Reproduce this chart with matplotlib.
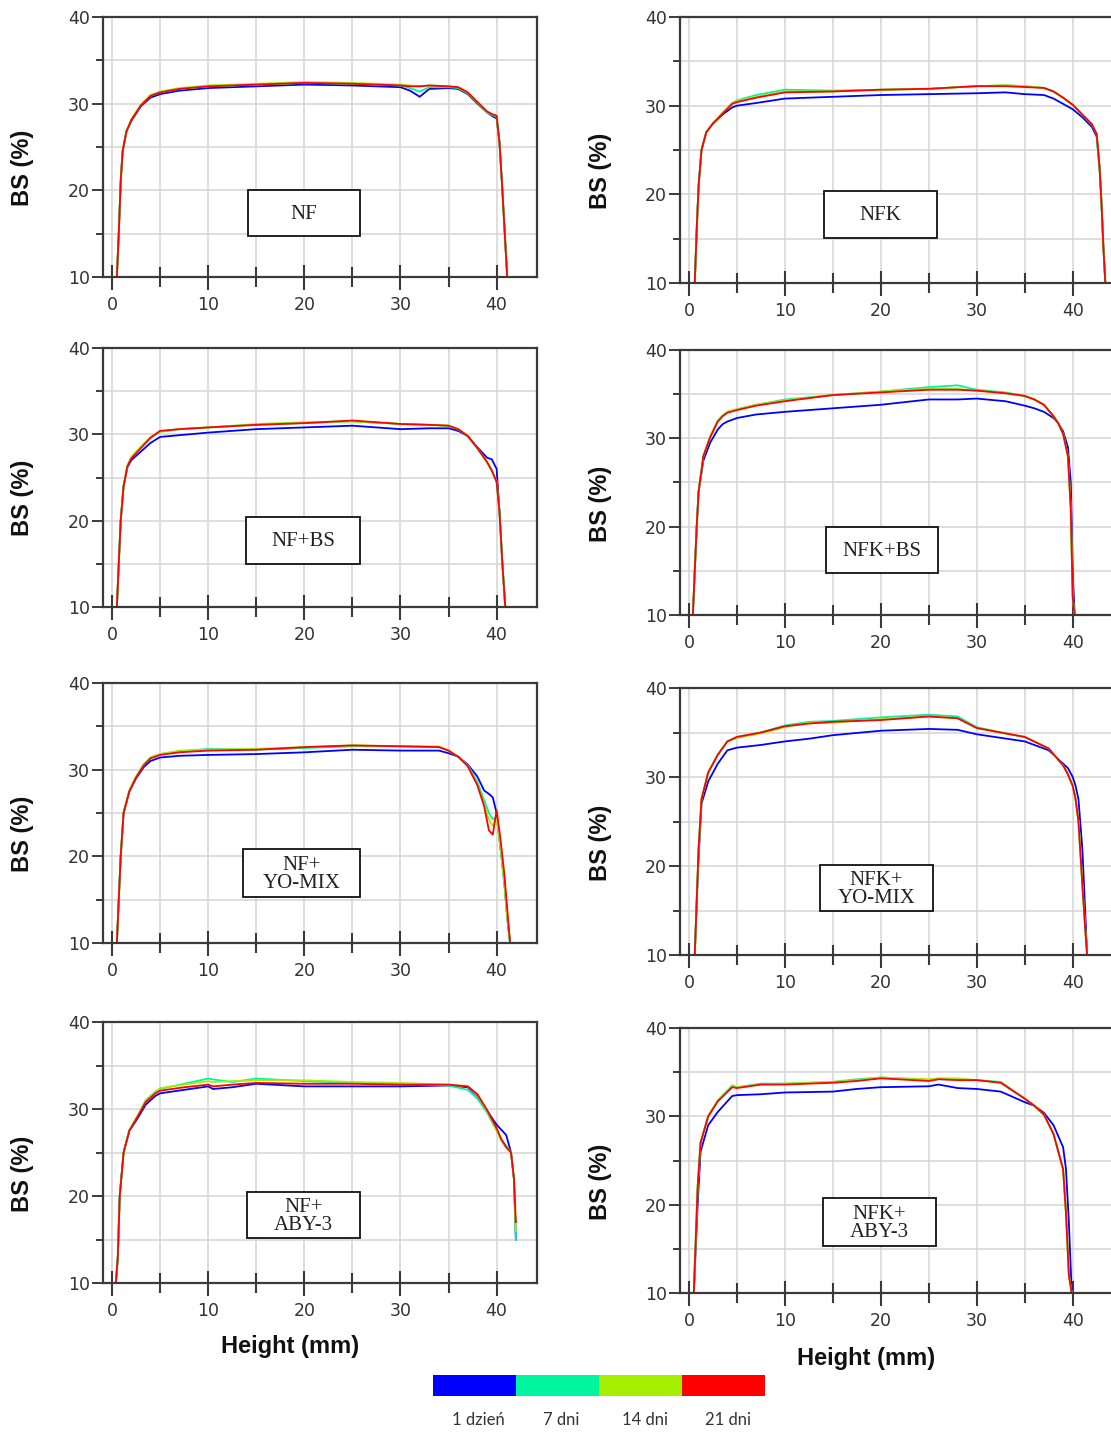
import numpy as np
import matplotlib
matplotlib.use('Agg')
import matplotlib.pyplot as plt
from matplotlib.patches import Rectangle

# backscattering profiles (BS, %) vs sample height (mm), four storage times per sample
day_labels = ['1 dzień', '7 dni', '14 dni', '21 dni']
day_colors = ['#0000ff', '#00f5a0', '#a6ee00', '#ff0000']

# NF
x_nf = [0.5, 0.7, 0.9, 1.1, 1.5, 2, 3, 4, 5, 7, 10, 15, 20, 25, 30, 31, 32, 33, 35, 36, 37, 38, 39, 39.5, 40, 40.3, 40.6, 40.9, 41.1]
nf_1 = [10, 15, 21, 24.5, 26.8, 28.0, 29.7, 30.7, 31.1, 31.5, 31.8, 32.0, 32.2, 32.1, 31.9, 31.5, 30.8, 31.7, 31.8, 31.7, 31.1, 30.0, 29.0, 28.6, 28.3, 25.5, 20, 14, 10]
nf_7 = [10, 15, 21, 24.5, 26.8, 28.1, 29.8, 30.9, 31.3, 31.7, 32.0, 32.2, 32.4, 32.3, 32.1, 31.8, 31.4, 31.9, 31.9, 31.8, 31.2, 30.1, 29.0, 28.7, 28.5, 25.5, 20, 14, 10]
nf_14 = [10, 15, 21, 24.5, 26.8, 28.2, 29.9, 31.0, 31.4, 31.8, 32.1, 32.3, 32.5, 32.4, 32.2, 32.1, 32.0, 32.1, 32.0, 31.9, 31.3, 30.2, 29.1, 28.8, 28.6, 25.5, 20, 14, 10]
nf_21 = [10, 15, 21, 24.5, 26.8, 28.1, 29.8, 30.9, 31.3, 31.7, 32.0, 32.2, 32.4, 32.3, 32.1, 32.0, 32.0, 32.1, 32.0, 31.9, 31.3, 30.2, 29.1, 28.8, 28.6, 25.5, 20, 14, 10]

# NFK
x_nfk = [0.6, 0.8, 1.0, 1.3, 1.8, 2.5, 3.5, 4.5, 5, 7, 10, 15, 20, 25, 30, 33, 35, 37, 38, 39, 40, 41, 42, 42.5, 42.8, 43.0, 43.2, 43.4]
nfk_1 = [10, 16, 21, 25, 27.0, 28.0, 29.0, 29.8, 30.0, 30.3, 30.8, 31.0, 31.2, 31.3, 31.4, 31.5, 31.3, 31.2, 30.8, 30.2, 29.6, 28.7, 27.6, 26.5, 23, 19, 14, 10]
nfk_7 = [10, 16, 21, 25, 27.0, 28.0, 29.2, 30.3, 30.6, 31.2, 31.8, 31.7, 31.8, 31.9, 32.2, 32.3, 32.2, 32.0, 31.6, 30.9, 30.1, 29.0, 27.9, 26.8, 23, 19, 14, 10]
nfk_14 = [10, 16, 21, 25, 27.0, 28.0, 29.2, 30.3, 30.5, 31.0, 31.6, 31.6, 31.8, 31.9, 32.2, 32.3, 32.2, 32.0, 31.6, 30.9, 30.1, 29.0, 27.9, 26.8, 23, 19, 14, 10]
nfk_21 = [10, 16, 21, 25, 27.0, 28.0, 29.1, 30.2, 30.4, 30.9, 31.5, 31.6, 31.8, 31.9, 32.2, 32.2, 32.1, 32.0, 31.6, 30.9, 30.1, 29.0, 27.9, 26.8, 23, 19, 14, 10]

# NF+BS
x_nfbs = [0.5, 0.7, 0.9, 1.2, 1.6, 2, 3, 4, 5, 7, 10, 15, 20, 25, 30, 33, 35, 36, 37, 38, 39, 39.5, 40, 40.3, 40.6, 40.9]
nfbs_1 = [10, 15, 20, 24, 26.2, 27.0, 28.0, 29.0, 29.7, 29.9, 30.2, 30.6, 30.8, 31.0, 30.6, 30.7, 30.7, 30.4, 29.8, 28.5, 27.3, 27.1, 26.0, 21, 15, 10]
nfbs_7 = [10, 15, 20, 24, 26.3, 27.3, 28.5, 29.6, 30.3, 30.6, 30.8, 31.1, 31.3, 31.5, 31.2, 31.1, 31.0, 30.6, 29.8, 28.4, 26.8, 25.8, 24.5, 21, 15, 10]
nfbs_14 = [10, 15, 20, 24, 26.4, 27.4, 28.6, 29.7, 30.3, 30.6, 30.8, 31.2, 31.4, 31.5, 31.2, 31.1, 31.0, 30.6, 29.8, 28.4, 26.8, 25.8, 24.5, 21, 15, 10]
nfbs_21 = [10, 15, 20, 24, 26.3, 27.2, 28.4, 29.6, 30.4, 30.6, 30.8, 31.1, 31.3, 31.6, 31.2, 31.1, 31.0, 30.6, 29.8, 28.4, 26.8, 25.8, 24.5, 21, 15, 10]

# NFK+BS
x_nfkbs = [0.4, 0.6, 0.8, 1.0, 1.5, 2.2, 3, 3.5, 4, 5, 7, 10, 15, 20, 25, 28, 30, 33, 35, 36, 37, 38, 38.5, 39, 39.5, 39.8, 40.0, 40.2]
nfkbs_1 = [10, 15, 20, 24, 27.5, 29.5, 31.0, 31.6, 31.9, 32.3, 32.7, 33.0, 33.4, 33.8, 34.4, 34.4, 34.5, 34.2, 33.7, 33.4, 33.0, 32.3, 31.7, 30.8, 29.0, 25, 15, 10]
nfkbs_7 = [10, 15, 20, 24, 28.0, 30.2, 32.0, 32.6, 33.0, 33.3, 33.8, 34.4, 34.9, 35.3, 35.8, 36.0, 35.5, 35.2, 34.8, 34.4, 33.8, 32.5, 31.7, 30.5, 28, 22, 12, 10]
nfkbs_14 = [10, 15, 20, 24, 28.0, 30.2, 32.0, 32.6, 33.0, 33.3, 33.8, 34.3, 34.9, 35.3, 35.6, 35.6, 35.4, 35.1, 34.8, 34.4, 33.8, 32.5, 31.7, 30.5, 28, 22, 12, 10]
nfkbs_21 = [10, 15, 20, 24, 28.0, 30.1, 31.9, 32.5, 32.9, 33.2, 33.7, 34.2, 34.9, 35.2, 35.5, 35.5, 35.4, 35.1, 34.8, 34.4, 33.8, 32.5, 31.7, 30.5, 28, 22, 12, 10]

# NF+YO-MIX
x_nfyo = [0.5, 0.7, 0.9, 1.2, 1.8, 2.5, 3.3, 4, 5, 7, 10, 15, 20, 25, 30, 34, 35, 36, 37, 38, 38.7, 39.2, 39.6, 40.0, 40.4, 40.8, 41.1, 41.4]
nfyo_1 = [10, 15, 20, 25, 27.5, 29.0, 30.3, 31.0, 31.4, 31.6, 31.7, 31.8, 32.0, 32.3, 32.2, 32.2, 31.9, 31.5, 30.6, 29.2, 27.6, 27.2, 26.8, 25.0, 21, 17, 13, 10]
nfyo_7 = [10, 15, 20, 25, 27.6, 29.2, 30.6, 31.4, 31.8, 32.1, 32.4, 32.3, 32.5, 32.7, 32.7, 32.6, 32.2, 31.5, 30.5, 28.6, 26.5, 25.0, 24.3, 24.5, 21, 17, 13, 10]
nfyo_14 = [10, 15, 20, 25, 27.6, 29.2, 30.6, 31.4, 31.8, 32.2, 32.3, 32.4, 32.6, 32.8, 32.7, 32.7, 32.2, 31.5, 30.4, 28.3, 26.0, 24.2, 23.5, 24.5, 21, 17, 13, 10]
nfyo_21 = [10, 15, 20, 25, 27.5, 29.1, 30.5, 31.3, 31.7, 32.0, 32.2, 32.3, 32.6, 32.8, 32.7, 32.6, 32.2, 31.5, 30.4, 28.2, 25.8, 23.0, 22.5, 25.3, 22, 18, 14, 10]

# NFK+YO-MIX
x_nfkyo = [0.6, 0.8, 1.0, 1.3, 2, 3, 4, 5, 7.5, 10, 12.5, 15, 20, 25, 28, 30, 32.5, 35, 37.5, 39, 39.5, 40, 40.3, 40.6, 41.0, 41.3, 41.5]
nfkyo_1 = [10, 16, 21, 27, 29.5, 31.5, 33.0, 33.3, 33.6, 34.0, 34.3, 34.7, 35.2, 35.4, 35.3, 34.8, 34.4, 34.0, 33.0, 31.5, 31.0, 30.0, 29.0, 27.5, 22, 15, 10]
nfkyo_7 = [10, 16, 22, 27.5, 30.5, 32.5, 34.0, 34.5, 35.0, 35.8, 36.2, 36.3, 36.7, 37.0, 36.8, 35.6, 35.0, 34.5, 33.2, 31.3, 30.3, 29.0, 27.5, 25, 18, 13, 10]
nfkyo_14 = [10, 16, 22, 27.5, 30.5, 32.5, 34.0, 34.4, 34.9, 35.6, 36.1, 36.1, 36.5, 36.8, 36.6, 35.5, 35.0, 34.5, 33.2, 31.3, 30.3, 29.0, 27.5, 25, 18, 13, 10]
nfkyo_21 = [10, 16, 22, 27.5, 30.5, 32.5, 34.0, 34.5, 35.0, 35.7, 36.0, 36.2, 36.4, 36.8, 36.6, 35.5, 35.0, 34.5, 33.2, 31.3, 30.3, 29.0, 27.5, 25, 18, 13, 10]

# NF+ABY-3
x_nfaby = [0.4, 0.6, 0.8, 1.2, 1.8, 2.7, 3.5, 4.5, 5, 7.5, 10, 10.5, 12.5, 15, 20, 25, 30, 35, 37, 38, 39, 40, 40.5, 41, 41.5, 41.8, 42.0]
nfaby_1 = [10, 13, 20, 25, 27.5, 29.0, 30.5, 31.5, 31.8, 32.2, 32.6, 32.3, 32.5, 32.9, 32.6, 32.6, 32.6, 32.7, 32.5, 31.5, 29.8, 28.2, 27.6, 27.0, 25.0, 22, 15]
nfaby_7 = [10, 13, 20, 25, 27.6, 29.3, 31.0, 32.0, 32.3, 32.9, 33.5, 33.4, 33.1, 33.5, 33.2, 33.0, 32.9, 32.7, 32.2, 31.2, 29.6, 27.5, 26.5, 25.8, 25.0, 22, 15]
nfaby_14 = [10, 13, 20, 25, 27.6, 29.3, 31.0, 32.0, 32.4, 32.8, 33.2, 33.1, 33.2, 33.3, 33.3, 33.1, 33.0, 32.8, 32.6, 31.6, 29.8, 27.5, 26.3, 25.6, 25.0, 22, 16]
nfaby_21 = [10, 13, 20, 25, 27.5, 29.2, 30.8, 31.8, 32.1, 32.5, 32.8, 32.6, 32.8, 33.0, 32.9, 32.9, 32.8, 32.8, 32.6, 31.7, 29.9, 27.8, 26.5, 25.6, 25.0, 22, 17]

# NFK+ABY-3
x_nfkaby = [0.5, 0.7, 0.9, 1.2, 2, 3, 4.5, 5, 7.5, 10, 15, 17.5, 20, 25, 26, 28, 30, 32.5, 35, 36, 37, 38, 39, 39.3, 39.6, 39.9]
nfkaby_1 = [10, 15, 20, 26, 29, 30.5, 32.3, 32.4, 32.5, 32.7, 32.8, 33.1, 33.3, 33.4, 33.6, 33.2, 33.1, 32.8, 31.6, 31.2, 30.4, 29.0, 26.5, 24, 18, 10]
nfkaby_7 = [10, 16, 22, 27, 30, 31.8, 33.5, 33.3, 33.7, 33.7, 33.9, 34.2, 34.4, 34.1, 34.2, 34.2, 34.1, 33.9, 32.0, 31.2, 30.2, 28.0, 24, 19, 12, 10]
nfkaby_14 = [10, 16, 22, 27, 30, 31.8, 33.4, 33.3, 33.6, 33.7, 33.9, 34.1, 34.4, 34.2, 34.3, 34.3, 34.1, 33.8, 32.0, 31.2, 30.2, 28.0, 24, 19, 12, 10]
nfkaby_21 = [10, 16, 22, 27, 30, 31.7, 33.3, 33.2, 33.6, 33.6, 33.8, 34.0, 34.3, 34.0, 34.2, 34.1, 34.1, 33.8, 32.0, 31.2, 30.2, 28.0, 24, 19, 12, 10]

W, H = 1111, 1434


def fig_rect(l, t, r, b):
    # pixel box (top-left origin) -> figure fraction rect
    return [l / W, 1 - b / H, (r - l) / W, (b - t) / H]


# name, x, curves, axes box (px), label box (px)
panels = [
    ('NF', x_nf, [nf_1, nf_7, nf_14, nf_21], (103, 17, 537, 277), (248, 190, 360, 236)),
    ('NFK', x_nfk, [nfk_1, nfk_7, nfk_14, nfk_21], (680, 17, 1113, 283), (824, 191, 937, 238)),
    ('NF+BS', x_nfbs, [nfbs_1, nfbs_7, nfbs_14, nfbs_21], (103, 348, 537, 607), (246, 517, 360, 564)),
    ('NFK+BS', x_nfkbs, [nfkbs_1, nfkbs_7, nfkbs_14, nfkbs_21], (680, 350, 1113, 615), (826, 527, 938, 573)),
    ('NF+\nYO-MIX', x_nfyo, [nfyo_1, nfyo_7, nfyo_14, nfyo_21], (103, 683, 537, 943), (243, 849, 360, 897)),
    ('NFK+\nYO-MIX', x_nfkyo, [nfkyo_1, nfkyo_7, nfkyo_14, nfkyo_21], (680, 688, 1113, 955), (820, 865, 933, 911)),
    ('NF+\nABY-3', x_nfaby, [nfaby_1, nfaby_7, nfaby_14, nfaby_21], (103, 1022, 537, 1283), (247, 1192, 360, 1238)),
    ('NFK+\nABY-3', x_nfkaby, [nfkaby_1, nfkaby_7, nfkaby_14, nfkaby_21], (680, 1028, 1113, 1293), (823, 1198, 936, 1246)),
]

fig = plt.figure(figsize=(W / 100, H / 100), dpi=100)
fig.patch.set_facecolor('white')

frame_col = '#3a3a3a'

for name, x, curves, box, lbox in panels:
    ax = fig.add_axes(fig_rect(*box))
    for y, c in zip(curves, day_colors):
        ax.plot(x, y, color=c, lw=1.3)
    ax.set_xlim(-0.94, 44.2)
    ax.set_ylim(10, 40)
    ax.set_xticks([0, 10, 20, 30, 40])
    ax.set_xticks([5, 15, 25, 35], minor=True)
    ax.set_yticks([10, 20, 30, 40])
    ax.set_yticks([15, 25, 35], minor=True)
    ax.grid(True, which='both', color='#d5d5d5', lw=1.1)
    ax.set_axisbelow(True)
    for s in ax.spines.values():
        s.set_color(frame_col)
        s.set_linewidth(1.6)
    ax.tick_params(axis='x', which='major', direction='inout', length=18, width=1.5,
                   color=frame_col, pad=5)
    ax.tick_params(axis='x', which='minor', direction='inout', length=15, width=1.5,
                   color=frame_col)
    ax.tick_params(axis='y', which='major', direction='out', length=8, width=1.4,
                   color=frame_col, pad=1.5)
    ax.tick_params(axis='y', which='minor', direction='out', length=5, width=1.4,
                   color=frame_col)
    for lab in ax.get_xticklabels() + ax.get_yticklabels():
        lab.set_fontfamily('DejaVu Sans')
        lab.set_fontsize(12.5)
        lab.set_color('#333333')

    # sample label box
    l, t, r, b = lbox
    fig.add_artist(Rectangle((l / W, 1 - b / H), (r - l) / W, (b - t) / H,
                             transform=fig.transFigure, facecolor='white',
                             edgecolor='#111111', lw=1.3, zorder=5))
    fig.text((l + r) / 2 / W, 1 - (t + b) / 2 / H - 0.001, name, ha='center', va='center',
             family='Liberation Serif', fontsize=15, color='#222222',
             linespacing=0.95, zorder=6)

    # y label
    l, t, r, b = box
    ylab_x = 22 if l < 300 else 600
    fig.text(ylab_x / W, 1 - (t + 0.58 * (b - t)) / H, 'BS (%)', rotation=90,
             ha='center', va='center', family='Liberation Sans', fontweight='bold',
             fontsize=17, color='#111111')

fig.text(290 / W, 1 - 1347 / H, 'Height (mm)', ha='center', va='center',
         family='Liberation Sans', fontweight='bold', fontsize=17, color='#111111')
fig.text(866 / W, 1 - 1358 / H, 'Height (mm)', ha='center', va='center',
         family='Liberation Sans', fontweight='bold', fontsize=17, color='#111111')

# colour key for storage time
kax = fig.add_axes(fig_rect(433, 1375, 765, 1396))
kax.bar(range(len(day_labels)), [1] * len(day_labels), width=1.0, color=day_colors)
kax.set_xlim(-0.5, len(day_labels) - 0.5)
kax.set_ylim(0, 1)
kax.axis('off')
for i, lab in enumerate(day_labels):
    kax.text(i + 0.05, -1.15, lab, ha='center', va='center', family='Lato',
             fontsize=12, color='#333333', clip_on=False)

fig.savefig('out.png', dpi=100, facecolor='white')
